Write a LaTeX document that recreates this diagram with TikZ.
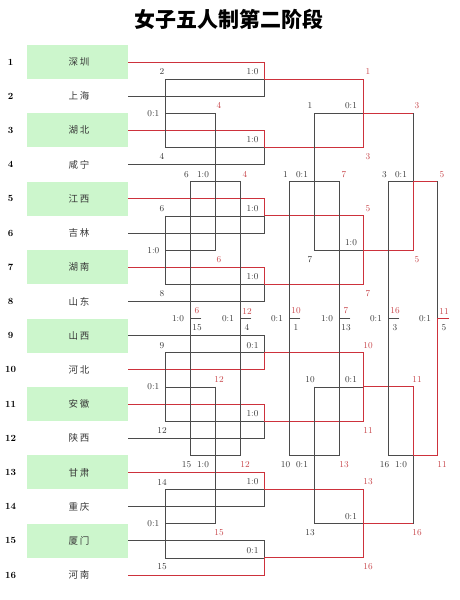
\documentclass[tikz,border=0pt]{standalone}
\usepackage{fontspec}
\newfontfamily\cjk{Noto Sans CJK SC}
\newfontfamily\cjkteam{Noto Sans CJK SC}[LetterSpace=18]
\definecolor{wred}{RGB}{205,50,60}
\definecolor{lred}{RGB}{200,70,75}
\definecolor{ln}{RGB}{75,75,75}
\definecolor{boxg}{RGB}{204,246,204}
\definecolor{txt}{RGB}{55,55,55}
\begin{document}
\begin{tikzpicture}[x=1pt,y=-1pt,line cap=rect,
 gl/.style={draw=ln,line width=0.8pt},
 rl/.style={draw=wred,line width=1pt},
 lab/.style={font=\fontsize{9}{9}\selectfont,text=txt,inner sep=0pt},
 wlab/.style={lab,text=lred},
 team/.style={font=\cjkteam\fontsize{9.5}{9.5}\selectfont,text=txt,inner sep=0pt},
 rnum/.style={font=\bfseries\fontsize{9.5}{9.5}\selectfont,inner sep=0pt}]
\useasboundingbox (0,0) rectangle (460,600);
\fill[white] (0,0) rectangle (460,600);
\node[font=\cjk\bfseries\fontsize{21}{21}\selectfont,inner sep=0pt] (title) at (229,19) {女子五人制第二阶段};
% teams
\foreach \i/\name in {1/深圳,2/上海,3/湖北,4/咸宁,5/江西,6/吉林,7/湖南,8/山东,9/山西,10/河北,11/安徽,12/陕西,13/甘肃,14/重庆,15/厦门,16/河南}{
  \pgfmathsetmacro\yy{62+(\i-1)*34.2}
  \ifodd\i \fill[boxg] (27,\yy-17) rectangle (128,\yy+17); \fi
  \node[team] (t\i) at (79,\yy) {\name};
  \node[rnum] (n\i) at (10.5,\yy) {\i};
}
% round 1 (x=264)
\foreach \k/\w/\s/\l/\wl/\o in {1/0/1:0/2/1/-7.5,2/0/1:0/4/3/9,3/0/1:0/6/5/-7.5,4/0/1:0/8/7/9,5/1/0:1/9/10/-7.5,6/0/1:0/12/11/9,7/0/1:0/14/13/-7.5,8/1/0:1/15/16/9}{
  \pgfmathsetmacro\ya{62+(2*\k-2)*34.2}
  \pgfmathsetmacro\yb{\ya+34.2}
  \pgfmathsetmacro\ym{\ya+17.1}
  \pgfmathsetmacro\yl{\ym+\o}
  \pgfmathsetmacro\ys{\ym-7.5}
  \draw[gl] (128,\ya) -- (264,\ya) -- (264,\yb) -- (128,\yb);
  \draw[gl] (165,\ym) -- (264,\ym);
  \ifnum\w=0
    \draw[rl] (128,\ya) -- (264,\ya) -- (264,\ym) -- (363,\ym);
  \else
    \draw[rl] (128,\yb) -- (264,\yb) -- (264,\ym) -- (363,\ym);
  \fi
  \node[lab] (ra\k) at (252.5,\ys) {\s};
  \node[lab] (rb\k) at (162,\yl) {\l};
  \node[wlab] (rw\k) at (368,\yl) {\wl};
}
% round 2, losers side (x=165)
\foreach \j/\s/\wl/\o in {1/0:1/4/-7.5,2/1:0/6/9,3/0:1/12/-7.5,4/0:1/15/9}{
  \pgfmathsetmacro\ya{79.1+(2*\j-2)*68.4}
  \pgfmathsetmacro\yb{\ya+68.4}
  \pgfmathsetmacro\ym{\ya+34.2}
  \pgfmathsetmacro\yl{\ym+\o}
  \draw[gl] (165,\ya) -- (165,\yb);
  \draw[gl] (165,\ym) -- (215,\ym);
  \node[lab,anchor=east] (la\j) at (159.5,\ym) {\s};
  \node[wlab] (lw\j) at (219,\yl) {\wl};
}
% round 2, winners side (x=363)
\foreach \j/\s/\l/\wl/\o in {1/0:1/1/3/-7.5,2/1:0/7/5/9,3/0:1/10/11/-7.5,4/0:1/13/16/9}{
  \pgfmathsetmacro\ya{79.1+(2*\j-2)*68.4}
  \pgfmathsetmacro\yb{\ya+68.4}
  \pgfmathsetmacro\ym{\ya+34.2}
  \pgfmathsetmacro\yl{\ym+\o}
  \pgfmathsetmacro\ys{\ym-7.5}
  \draw[gl] (314,\ym) -- (363,\ym);
  \draw[rl] (363,\ya) -- (363,\yb);
  \draw[rl] (363,\ym) -- (413,\ym);
  \node[lab] (wa\j) at (351,\ys) {\s};
  \node[lab] (wb\j) at (310,\yl) {\l};
  \node[wlab] (ww\j) at (417,\yl) {\wl};
}
% round 3
\foreach \x/\lx/\wx/\q/\w/\l/\s/\wl/\o [count=\c] in {215/190/240/1/0/6/1:0/4/-7.5,215/190/240/2/0/15/1:0/12/9,314/289/339/1/1/1/0:1/7/-7.5,314/289/339/2/1/10/0:1/13/9,413/388/437/1/1/3/0:1/5/-7.5,413/388/437/2/0/16/1:0/11/9}{
  \pgfmathsetmacro\ya{113.3+(\q-1)*273.6}
  \pgfmathsetmacro\yb{\ya+136.8}
  \pgfmathsetmacro\ym{\ya+68.4}
  \pgfmathsetmacro\yl{\ym+\o}
  \pgfmathsetmacro\xa{\lx-3.5}
  \pgfmathsetmacro\xb{\x-12}
  \pgfmathsetmacro\xc{\wx+5}
  \draw[gl] (\x,\ya) -- (\x,\yb);
  \draw[gl] (\lx,\ym) -- (\wx,\ym);
  \ifnum\x=413
    \ifnum\w=0
      \draw[rl] (\x,\ya) -- (\x,\ym) -- (\wx,\ym);
    \else
      \draw[rl] (\x,\yb) -- (\x,\ym) -- (\wx,\ym);
    \fi
  \fi
  \node[lab] (tl\c) at (\xa,\yl) {\l};
  \node[lab] (ts\c) at (\xb,\yl) {\s};
  \node[wlab] (tw\c) at (\xc,\yl) {\wl};
}
% round 4 (placements)
\foreach \x/\s/\wl/\ll [count=\c] in {190/1:0/6/15,240/0:1/12/4,289/0:1/10/1,339/1:0/7/13,388/0:1/16/3,437/0:1/11/5}{
  \pgfmathsetmacro\xa{\x-12}
  \pgfmathsetmacro\xc{\x+7}
  \draw[gl] (\x,181.7) -- (\x,455.3);
  \draw[gl] (\x,318.5) -- ++(11,0);
  \node[lab] (fs\c) at (\xa,318.5) {\s};
  \node[wlab] (fw\c) at (\xc,311) {\wl};
  \node[lab] (fl\c) at (\xc,327.5) {\ll};
}
\draw[rl] (437,455.3) -- (437,318.5) -- (448,318.5);
\end{tikzpicture}
\end{document}
